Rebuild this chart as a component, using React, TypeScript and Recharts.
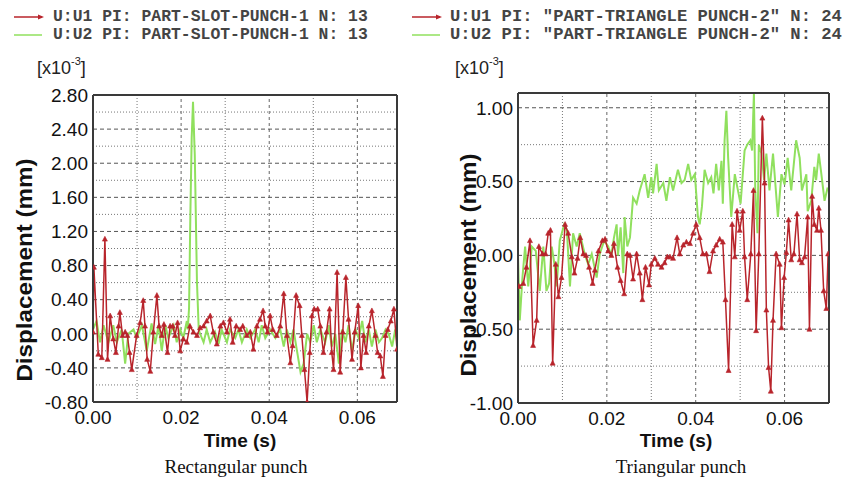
import React from 'react';
import { LineChart, Line, XAxis, YAxis, ReferenceLine } from 'recharts';

// ---------- Rectangular punch (left) ----------
const rectU1Time = [0.0000,0.0002,0.0012,0.0020,0.0027,0.0033,0.0039,0.0046,0.0052,0.0058,0.0061,0.0067,0.0073,0.0078,0.0083,0.0088,0.0099,0.0107,0.0114,0.0118,0.0123,0.0130,0.0137,0.0145,0.0150,0.0156,0.0161,0.0169,0.0175,0.0181,0.0186,0.0192,0.0198,0.0205,0.0213,0.0220,0.0228,0.0236,0.0243,0.0251,0.0258,0.0266,0.0273,0.0281,0.0289,0.0296,0.0304,0.0311,0.0317,0.0325,0.0334,0.0340,0.0349,0.0357,0.0364,0.0372,0.0379,0.0386,0.0391,0.0396,0.0402,0.0408,0.0417,0.0425,0.0433,0.0440,0.0448,0.0453,0.0461,0.0469,0.0474,0.0480,0.0486,0.0492,0.0497,0.0502,0.0510,0.0516,0.0523,0.0530,0.0537,0.0542,0.0546,0.0554,0.0561,0.0567,0.0574,0.0580,0.0588,0.0594,0.0602,0.0608,0.0614,0.0620,0.0626,0.0633,0.0641,0.0646,0.0652,0.0658,0.0664,0.0669,0.0676,0.0683,0.0690];
const rectU1 = [0.02,0.78,-0.24,-0.28,1.11,-0.30,0.21,-0.06,-0.22,0.09,0.25,-0.02,0.02,-0.02,-0.22,-0.42,-0.02,0.13,0.39,0.09,-0.30,-0.44,0.02,0.45,0.09,-0.02,0.11,-0.22,0.09,0.09,-0.02,0.13,-0.20,-0.06,-0.10,0.09,0.02,-0.02,0.07,0.09,0.15,0.21,0.02,-0.12,0.09,0.13,0.02,0.17,-0.10,0.09,0.05,0.09,-0.02,0.02,-0.18,0.09,0.17,0.27,0.09,0.02,0.21,0.05,-0.02,0.09,0.47,-0.02,-0.34,-0.14,0.45,0.33,-0.02,-0.42,-0.80,-0.22,0.21,0.29,0.29,0.09,-0.22,0.02,0.29,-0.22,-0.42,0.72,-0.45,0.02,0.66,0.17,-0.30,0.02,0.33,-0.40,-0.02,-0.22,0.09,0.27,-0.02,-0.22,-0.26,-0.50,-0.02,0.05,0.15,0.29,-0.18];
const rectU2Time = [0.0000,0.0008,0.0016,0.0024,0.0035,0.0046,0.0054,0.0065,0.0073,0.0080,0.0092,0.0099,0.0111,0.0122,0.0133,0.0141,0.0149,0.0156,0.0164,0.0171,0.0183,0.0190,0.0198,0.0205,0.0213,0.0215,0.0218,0.0221,0.0224,0.0227,0.0229,0.0231,0.0233,0.0236,0.0240,0.0243,0.0251,0.0258,0.0266,0.0277,0.0285,0.0292,0.0304,0.0311,0.0323,0.0330,0.0338,0.0349,0.0357,0.0368,0.0376,0.0383,0.0391,0.0402,0.0414,0.0425,0.0433,0.0440,0.0448,0.0455,0.0463,0.0471,0.0478,0.0486,0.0493,0.0501,0.0508,0.0516,0.0527,0.0535,0.0542,0.0550,0.0558,0.0565,0.0573,0.0580,0.0588,0.0596,0.0603,0.0611,0.0618,0.0626,0.0633,0.0641,0.0649,0.0656,0.0664,0.0671,0.0679,0.0686,0.0690];
const rectU2 = [0.05,0.15,-0.10,0.10,-0.10,0.10,-0.10,0.05,-0.35,0.00,0.05,-0.05,0.10,-0.20,0.12,-0.12,0.10,-0.20,0.10,-0.05,0.10,-0.10,0.05,-0.05,0.15,0.05,0.30,1.40,2.30,2.72,2.40,2.10,1.50,0.60,0.05,0.00,-0.10,0.05,-0.10,0.02,-0.12,0.05,-0.10,0.05,-0.05,0.05,-0.10,0.05,-0.05,0.05,-0.10,0.10,-0.05,0.05,-0.05,0.05,-0.15,0.05,-0.10,0.05,-0.20,-0.45,-0.35,0.00,-0.10,0.10,-0.10,0.05,-0.10,0.10,-0.15,0.00,-0.35,0.05,-0.10,0.10,-0.20,0.05,-0.05,0.15,-0.10,0.05,-0.15,0.05,-0.10,-0.05,0.05,0.00,-0.15,0.05,-0.08];

// ---------- Triangular punch (right) ----------
const triU1Time = [0.0002,0.0012,0.0019,0.0027,0.0034,0.0042,0.0047,0.0055,0.0062,0.0068,0.0073,0.0078,0.0085,0.0091,0.0098,0.0106,0.0113,0.0121,0.0127,0.0134,0.0140,0.0147,0.0153,0.0160,0.0168,0.0173,0.0181,0.0190,0.0196,0.0203,0.0210,0.0216,0.0224,0.0231,0.0239,0.0246,0.0252,0.0259,0.0267,0.0274,0.0280,0.0287,0.0295,0.0300,0.0308,0.0315,0.0323,0.0330,0.0336,0.0342,0.0349,0.0358,0.0364,0.0372,0.0379,0.0387,0.0394,0.0401,0.0409,0.0416,0.0424,0.0431,0.0439,0.0446,0.0454,0.0461,0.0467,0.0474,0.0482,0.0488,0.0493,0.0499,0.0506,0.0510,0.0516,0.0524,0.0530,0.0536,0.0542,0.0550,0.0555,0.0559,0.0564,0.0569,0.0574,0.0581,0.0589,0.0593,0.0599,0.0604,0.0609,0.0615,0.0621,0.0628,0.0634,0.0639,0.0645,0.0652,0.0656,0.0662,0.0667,0.0673,0.0677,0.0682,0.0688,0.0694,0.0698];
const triU1 = [-0.21,-0.19,-0.08,0.10,-0.61,-0.44,0.06,0.01,0.01,0.15,0.17,-0.73,-0.06,-0.28,-0.15,0.21,0.15,-0.01,-0.12,-0.02,0.12,0.01,0.00,-0.08,-0.19,-0.10,0.03,0.10,0.11,0.03,0.00,0.08,-0.08,-0.17,-0.26,0.01,0.00,-0.16,0.01,-0.12,-0.30,-0.08,-0.20,-0.06,-0.02,-0.06,-0.08,-0.05,-0.01,-0.01,-0.02,0.12,0.01,0.07,0.09,0.08,0.15,0.21,0.12,0.01,0.01,-0.11,0.03,0.07,0.11,0.09,-0.30,-0.78,0.21,-0.01,0.30,0.17,0.30,-0.01,-0.30,0.01,0.44,-0.51,0.01,0.93,0.49,-0.37,-0.76,-0.92,-0.44,0.01,-0.06,-0.49,-0.15,0.02,0.24,-0.03,0.01,0.28,-0.03,-0.05,-0.01,0.26,-0.50,0.40,0.21,0.17,0.32,0.17,-0.24,-0.36,0.01];
const triU2Time = [0.0000,0.0004,0.0010,0.0016,0.0023,0.0031,0.0040,0.0049,0.0057,0.0064,0.0070,0.0076,0.0082,0.0087,0.0094,0.0104,0.0110,0.0117,0.0124,0.0132,0.0139,0.0151,0.0158,0.0166,0.0177,0.0184,0.0194,0.0203,0.0210,0.0216,0.0222,0.0225,0.0231,0.0237,0.0240,0.0246,0.0252,0.0259,0.0267,0.0274,0.0285,0.0293,0.0300,0.0304,0.0312,0.0317,0.0327,0.0334,0.0342,0.0349,0.0360,0.0368,0.0375,0.0383,0.0390,0.0398,0.0405,0.0409,0.0414,0.0420,0.0428,0.0435,0.0440,0.0446,0.0452,0.0458,0.0461,0.0465,0.0469,0.0473,0.0480,0.0488,0.0495,0.0501,0.0510,0.0516,0.0523,0.0527,0.0531,0.0534,0.0539,0.0542,0.0548,0.0554,0.0559,0.0566,0.0574,0.0585,0.0593,0.0600,0.0607,0.0615,0.0626,0.0634,0.0639,0.0649,0.0652,0.0660,0.0667,0.0671,0.0677,0.0682,0.0690,0.0697];
const triU2 = [0.00,-0.44,-0.15,0.06,-0.21,0.06,0.03,-0.24,0.06,-0.24,-0.19,0.06,-0.06,-0.21,0.10,0.21,0.17,-0.21,0.15,0.06,0.15,0.00,-0.06,0.01,-0.15,0.01,0.10,0.06,0.00,0.12,0.21,0.00,0.19,-0.12,0.26,0.06,0.12,0.39,0.35,0.44,0.55,0.39,0.53,0.42,0.62,0.44,0.49,0.37,0.53,0.44,0.58,0.49,0.51,0.62,0.51,0.55,0.26,0.21,0.33,0.58,0.49,0.53,0.42,0.62,0.44,0.64,0.35,0.78,0.98,0.66,0.26,0.55,0.44,0.35,0.71,0.75,0.78,0.71,1.10,0.44,0.15,0.75,0.69,0.51,0.69,0.44,0.69,0.26,0.55,0.48,0.66,0.44,0.78,0.66,0.44,0.55,0.30,0.37,0.60,0.51,0.69,0.57,0.37,0.46];

// ---------- Axis ticks & labels ----------
const rectXTicks = [0, 0.02, 0.04, 0.06];
const rectXMinor = [0.01, 0.03, 0.05];
const rectYTicks = [-0.8, -0.4, 0, 0.4, 0.8, 1.2, 1.6, 2.0, 2.4, 2.8];
const rectYMinor = [-0.6, -0.2, 0.2, 0.6, 1.0, 1.4, 1.8, 2.2, 2.6];
const triXTicks = [0, 0.02, 0.04, 0.06];
const triXMinor = [0.01, 0.03, 0.05];
const triYTicks = [-1, -0.5, 0, 0.5, 1];
const triYMinor = [-0.75, -0.25, 0.25, 0.75];

const rectLegend = ['U:U1 PI: PART-SLOT-PUNCH-1 N: 13', 'U:U2 PI: PART-SLOT-PUNCH-1 N: 13'];
const triLegend = ['U:U1 PI: "PART-TRIANGLE PUNCH-2" N: 24', 'U:U2 PI: "PART-TRIANGLE PUNCH-2" N: 24'];
const captions = ['Rectangular punch', 'Triangular punch'];

const RED = '#b8242b';
const GREEN = '#90e05e';
const FRAME = '#3a3a3a';
const SANS = '"Liberation Sans", Arial, sans-serif';

const zip = (ts: number[], vs: number[]) => ts.map((t, i) => ({ t, v: vs[i] }));
const f2 = (v: number) => v.toFixed(2);

const Tri = (props: any) => {
  const { cx, cy, index } = props;
  if (cx == null || cy == null) return <g key={index} />;
  return (
    <path
      key={index}
      d={`M${cx - 2.5},${cy + 2} L${cx + 2.5},${cy + 2} L${cx},${cy - 2.8} Z`}
      fill={RED}
      stroke={RED}
      strokeWidth={0.6}
    />
  );
};

type PanelProps = {
  left: number; width: number;
  plotLeft: number; plotRight: number; plotTop: number; plotBottom: number;
  xDomain: [number, number]; yDomain: [number, number];
  xTicks: number[]; xMinor: number[]; yTicks: number[]; yMinor: number[];
  u1: { t: number; v: number }[]; u2: { t: number; v: number }[];
};

const YW = 60;
const XH = 30;
const H = 482;

function Panel(p: PanelProps) {
  const margin = {
    top: p.plotTop,
    right: p.width - p.plotRight,
    bottom: H - p.plotBottom - XH,
    left: p.plotLeft - YW,
  };
  const tickFont = { fill: '#111', fontSize: 19, fontFamily: SANS };
  const majLine = { stroke: FRAME, strokeWidth: 2 };
  const minLine = { stroke: FRAME, strokeWidth: 1.5 };
  const frame = { stroke: FRAME, strokeWidth: 2 };
  return (
    <div style={{ position: 'absolute', left: p.left, top: 0 }}>
      <LineChart width={p.width} height={H} margin={margin}>
        <XAxis xAxisId="main" dataKey="t" type="number" domain={p.xDomain} ticks={p.xTicks}
          tickFormatter={f2} tickLine={false} axisLine={false} tickSize={0} tickMargin={9}
          height={XH} tick={tickFont} allowDataOverflow interval={0} />
        <XAxis xAxisId="bMaj" orientation="bottom" mirror type="number" domain={p.xDomain} ticks={p.xTicks}
          tick={false} tickSize={7} axisLine={frame} tickLine={majLine} allowDataOverflow interval={0} />
        <XAxis xAxisId="bMin" orientation="bottom" mirror type="number" domain={p.xDomain} ticks={p.xMinor}
          tick={false} tickSize={4} axisLine={false} tickLine={minLine} allowDataOverflow interval={0} />
        <XAxis xAxisId="tMaj" orientation="top" mirror type="number" domain={p.xDomain} ticks={p.xTicks}
          tick={false} tickSize={7} axisLine={frame} tickLine={majLine} allowDataOverflow interval={0} />
        <XAxis xAxisId="tMin" orientation="top" mirror type="number" domain={p.xDomain} ticks={p.xMinor}
          tick={false} tickSize={4} axisLine={false} tickLine={minLine} allowDataOverflow interval={0} />
        <YAxis yAxisId="main" type="number" domain={p.yDomain} ticks={p.yTicks} tickFormatter={f2}
          tickLine={false} axisLine={false} tickSize={0} tickMargin={5} width={YW} tick={tickFont}
          allowDataOverflow interval={0} />
        <YAxis yAxisId="lMaj" orientation="left" mirror type="number" domain={p.yDomain} ticks={p.yTicks}
          tick={false} tickSize={7} axisLine={frame} tickLine={majLine} allowDataOverflow interval={0} />
        <YAxis yAxisId="lMin" orientation="left" mirror type="number" domain={p.yDomain} ticks={p.yMinor}
          tick={false} tickSize={4} axisLine={false} tickLine={minLine} allowDataOverflow interval={0} />
        <YAxis yAxisId="rMaj" orientation="right" mirror type="number" domain={p.yDomain} ticks={p.yTicks}
          tick={false} tickSize={7} axisLine={frame} tickLine={majLine} allowDataOverflow interval={0} />
        <YAxis yAxisId="rMin" orientation="right" mirror type="number" domain={p.yDomain} ticks={p.yMinor}
          tick={false} tickSize={4} axisLine={false} tickLine={minLine} allowDataOverflow interval={0} />

        {p.xMinor.map((x) => (
          <ReferenceLine key={'vx' + x} xAxisId="main" yAxisId="main" x={x} stroke="#777" strokeDasharray="1 2" />
        ))}
        {p.xTicks.filter((x) => x > p.xDomain[0]).map((x) => (
          <ReferenceLine key={'vX' + x} xAxisId="main" yAxisId="main" x={x} stroke="#666" strokeDasharray="3 3" />
        ))}
        {p.yMinor.map((y) => (
          <ReferenceLine key={'hy' + y} xAxisId="main" yAxisId="main" y={y} stroke="#777" strokeDasharray="1 2" />
        ))}
        {p.yTicks.filter((y) => y > p.yDomain[0] && y < p.yDomain[1]).map((y) => (
          <ReferenceLine key={'hY' + y} xAxisId="main" yAxisId="main" y={y} stroke="#555" strokeDasharray="4 3" />
        ))}

        <Line xAxisId="main" yAxisId="main" data={p.u2} dataKey="v" type="linear" stroke={GREEN}
          strokeWidth={2} dot={false} isAnimationActive={false} />
        <Line xAxisId="main" yAxisId="main" data={p.u1} dataKey="v" type="linear" stroke={RED}
          strokeWidth={1.5} dot={<Tri />} isAnimationActive={false} />
      </LineChart>
    </div>
  );
}

const legendText: React.CSSProperties = {
  position: 'absolute',
  fontFamily: '"Liberation Mono", "Courier New", monospace',
  fontWeight: 'bold',
  color: '#444',
  whiteSpace: 'pre',
  lineHeight: '18px',
};

function LegendRow({ x, y, text, color, arrow, lineX, size }: { x: number; y: number; text: string; color: string; arrow: boolean; lineX: number; size: number }) {
  return (
    <>
      <svg style={{ position: 'absolute', left: lineX, top: y - 5 }} width={32} height={10}>
        <line x1={0} y1={5} x2={28} y2={5} stroke={color} strokeWidth={1.5} />
        {arrow && <path d="M24,2.5 L30,5 L24,7.5 Z" fill={color} />}
      </svg>
      <div style={{ ...legendText, fontSize: size, left: x, top: y - 9 }}>{text}</div>
    </>
  );
}

function Exp({ x, y }: { x: number; y: number }) {
  return (
    <div style={{ position: 'absolute', left: x, top: y, fontFamily: SANS, fontSize: 18, color: '#222', whiteSpace: 'pre' }}>
      [x10<sup style={{ fontSize: 11, verticalAlign: 'top', position: 'relative', top: -3 }}>-3</sup>]
    </div>
  );
}

const titleStyle: React.CSSProperties = {
  position: 'absolute',
  fontFamily: SANS,
  fontWeight: 'bold',
  color: '#111',
  whiteSpace: 'pre',
};

const captionStyle: React.CSSProperties = {
  position: 'absolute',
  transform: 'translate(-50%, -50%)',
  fontFamily: '"Liberation Serif", "Times New Roman", serif',
  fontSize: 19,
  color: '#111',
  whiteSpace: 'pre',
};

export default function App() {
  return (
    <div style={{ position: 'absolute', left: 0, top: 0, width: 861, height: 482, background: '#fff', overflow: 'hidden' }}>
      <Panel left={0} width={430} plotLeft={93} plotRight={397} plotTop={95} plotBottom={402}
        xDomain={[0, 0.069]} yDomain={[-0.8, 2.8]} xTicks={rectXTicks} xMinor={rectXMinor}
        yTicks={rectYTicks} yMinor={rectYMinor} u1={zip(rectU1Time, rectU1)} u2={zip(rectU2Time, rectU2)} />
      <Panel left={430} width={431} plotLeft={88} plotRight={399} plotTop={93} plotBottom={403}
        xDomain={[0, 0.07]} yDomain={[-1, 1.1]} xTicks={triXTicks} xMinor={triXMinor}
        yTicks={triYTicks} yMinor={triYMinor} u1={zip(triU1Time, triU1)} u2={zip(triU2Time, triU2)} />

      <LegendRow x={53} y={17} lineX={14} size={16.4} text={rectLegend[0]} color={RED} arrow />
      <LegendRow x={53} y={35} lineX={14} size={16.4} text={rectLegend[1]} color={GREEN} arrow={false} />
      <LegendRow x={450} y={17} lineX={412} size={17.2} text={triLegend[0]} color={RED} arrow />
      <LegendRow x={450} y={35} lineX={412} size={17.2} text={triLegend[1]} color={GREEN} arrow={false} />

      <Exp x={37} y={58} />
      <Exp x={455} y={58} />

      <div style={{ ...titleStyle, fontSize: 22, left: 25, top: 270, transform: 'translate(-50%, -50%) rotate(-90deg) scaleX(1.1)' }}>Displacement (mm)</div>
      <div style={{ ...titleStyle, fontSize: 22, left: 469, top: 265, transform: 'translate(-50%, -50%) rotate(-90deg) scaleX(1.1)' }}>Displacement (mm)</div>
      <div style={{ ...titleStyle, fontSize: 19, left: 240, top: 441, transform: 'translate(-50%, -50%)' }}>Time (s)</div>
      <div style={{ ...titleStyle, fontSize: 19, left: 676, top: 441, transform: 'translate(-50%, -50%)' }}>Time (s)</div>

      <div style={{ ...captionStyle, left: 236, top: 467 }}>{captions[0]}</div>
      <div style={{ ...captionStyle, left: 681, top: 467 }}>{captions[1]}</div>
    </div>
  );
}
